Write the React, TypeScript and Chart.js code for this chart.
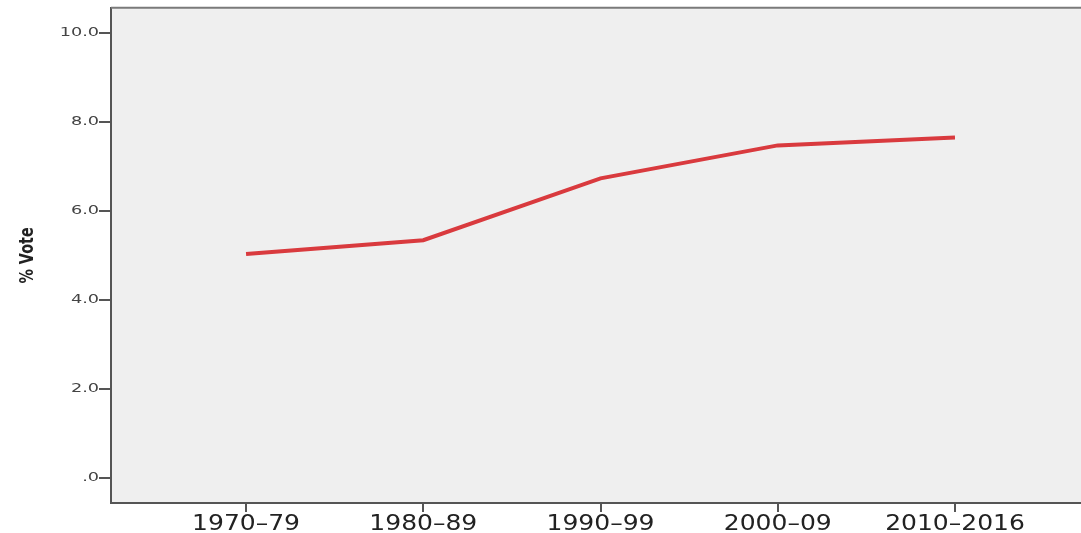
import React, { useEffect, useRef } from "react";
import { Chart, registerables } from "chart.js";

Chart.register(...registerables);

const categories = ["1970–79", "1980–89", "1990–99", "2000–09", "2010–2016"];
const voteShare = [5.03, 5.34, 6.73, 7.47, 7.65];
const yTickValues = [0, 2, 4, 6, 8, 10];

// The reference text is horizontally stretched (tick labels) or condensed (axis title).
const textStyler = {
  id: "textStyler",
  beforeDraw(chart: any) {
    const ctx = chart.ctx;
    if (ctx.__patched) return;
    ctx.__patched = true;
    const orig = ctx.fillText;
    ctx.fillText = function (this: any, text: string, x: number, y: number, maxWidth?: number) {
      const f: string = this.font || "";
      let sx = 1;
      if (f.includes("bold")) sx = 0.72;
      else if (f.includes("21px")) sx = 1.19;
      else if (f.includes("13px")) sx = 1.36;
      this.save();
      this.translate(x, y);
      this.scale(sx, 1);
      if (maxWidth === undefined) orig.call(this, text, 0, 0);
      else orig.call(this, text, 0, 0, maxWidth);
      this.restore();
    };
  },
};

const plotBackground = {
  id: "plotBackground",
  beforeDraw(chart: any) {
    const { ctx, chartArea } = chart;
    ctx.save();
    ctx.fillStyle = "#efefef";
    ctx.fillRect(chartArea.left, chartArea.top, chartArea.right - chartArea.left, chartArea.bottom - chartArea.top);
    ctx.restore();
  },
  afterDraw(chart: any) {
    const { ctx, chartArea } = chart;
    ctx.save();
    ctx.strokeStyle = "#7a7a7a";
    ctx.lineWidth = 2;
    ctx.beginPath();
    ctx.moveTo(chartArea.left, chartArea.top);
    ctx.lineTo(chartArea.right, chartArea.top);
    ctx.stroke();
    ctx.restore();
  },
};

export default function App() {
  const ref = useRef<HTMLCanvasElement>(null);
  useEffect(() => {
    if (!ref.current) return;
    const chart = new Chart(ref.current, {
      type: "line",
      data: {
        datasets: [
          {
            label: "% Vote",
            data: voteShare.map((v, i) => ({ x: i, y: v })),
            borderColor: "#d93a3e",
            borderWidth: 4,
            pointRadius: 0,
            tension: 0,
            fill: false,
          },
        ],
      },
      options: {
        animation: false,
        responsive: true,
        maintainAspectRatio: false,
        layout: { padding: { top: 7, right: 0, left: 0, bottom: 0 } },
        plugins: { legend: { display: false }, tooltip: { enabled: false } },
        scales: {
          x: {
            type: "linear",
            min: -0.762,
            max: 4.711,
            afterFit(scale: any) {
              scale.height = 30;
            },
            afterBuildTicks(scale: any) {
              scale.ticks = categories.map((_, i) => ({ value: i }));
            },
            ticks: {
              autoSkip: false,
              maxRotation: 0,
              padding: 0,
              color: "#222",
              font: { family: "'DejaVu Sans', sans-serif", size: 21 },
              callback: (v: any) => categories[v] ?? "",
            },
            grid: {
              display: true,
              drawOnChartArea: false,
              drawTicks: true,
              tickLength: 9,
              color: "#555",
              lineWidth: 2,
            },
            border: { display: true, color: "#555", width: 2 },
          },
          y: {
            type: "linear",
            min: -0.56,
            max: 10.56,
            afterFit(scale: any) {
              scale.width = 111;
            },
            afterBuildTicks(scale: any) {
              scale.ticks = yTickValues.map((v) => ({ value: v }));
            },
            ticks: {
              padding: 0,
              color: "#444",
              font: { family: "'DejaVu Sans', sans-serif", size: 13 },
              callback: (v: any) => (v === 0 ? ".0" : Number(v).toFixed(1)),
            },
            grid: {
              display: true,
              drawOnChartArea: false,
              drawTicks: true,
              tickLength: 12,
              color: "#555",
              lineWidth: 2,
            },
            border: { display: true, color: "#555", width: 2 },
            title: {
              display: true,
              text: "% Vote",
              color: "#222",
              padding: { top: 16, bottom: 0 },
              font: {
                family: "'DejaVu Sans', sans-serif",
                size: 20,
                weight: "bold",
              },
            },
          },
        },
      },
      plugins: [textStyler, plotBackground],
    });
    return () => chart.destroy();
  }, []);
  return (
    <div style={{ position: "absolute", left: 0, top: 0, width: 1081, height: 533, background: "#fff" }}>
      <canvas ref={ref} />
    </div>
  );
}
